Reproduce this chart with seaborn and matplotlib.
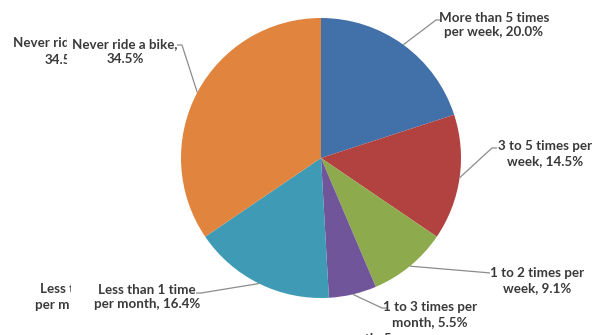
import matplotlib
matplotlib.use("Agg")
import matplotlib.pyplot as plt
import numpy as np
import seaborn as sns
from matplotlib.patches import Rectangle

# Bike-riding frequency shares (percent), clockwise from 12 o'clock
categories = [
    "More than 5 times per week",
    "3 to 5 times per week",
    "1 to 2 times per week",
    "1 to 3 times per month",
    "Less than 1 time per month",
    "Never ride a bike",
]
shares = [20.0, 14.5, 9.1, 5.5, 16.4, 34.5]
label_texts = [
    "More than 5 times\nper week, 20.0%",
    "3 to 5 times per\nweek, 14.5%",
    "1 to 2 times per\nweek, 9.1%",
    "1 to 3 times per\nmonth, 5.5%",
    "Less than 1 time\nper month, 16.4%",
    "Never ride a bike,\n34.5%",
]
palette = ["#4271A9", "#B2423F", "#8DAA4C", "#70559A", "#3E9AB5", "#E0843E"]

sns.set_theme(style="white")
plt.rcParams["font.family"] = ["Lato", "DejaVu Sans"]

W, H = 597, 335
fig = plt.figure(figsize=(W / 100, H / 100), dpi=100)
ax = fig.add_axes([0, 0, 1, 1])

# work in pixel-like units, y measured from the top
def py(y):
    return H - y

cx, cy, r = 321, py(158), 140
wedges, _ = ax.pie(
    shares,
    colors=sns.color_palette(palette),
    startangle=90,
    counterclock=False,
    center=(cx, cy),
    radius=r,
    wedgeprops=dict(linewidth=0),
)
ax.set_xlim(0, W)
ax.set_ylim(0, H)
ax.set_aspect("equal")
ax.axis("off")

# label centres, elbow point and tick end (x, y from top)
label_layout = [
    dict(text=(494, 25), elbow=(436, 20), tick=(441, 20)),
    dict(text=(545, 153.5), elbow=(492, 148), tick=(497, 148)),
    dict(text=(537, 280.5), elbow=(485, 272.5), tick=(490, 273)),
    dict(text=(430, 314.5), elbow=(382, 308), tick=(388, 308)),
    dict(text=(147, 297), elbow=(201, 293), tick=(196, 293)),
    dict(text=(125, 51.5), elbow=(182, 45), tick=(177, 45)),
]

text_color = "#3a3a3a"
line_color = "#8c8c8c"
fs = 9.6

for w, txt, lay in zip(wedges, label_texts, label_layout):
    mid = np.deg2rad((w.theta1 + w.theta2) / 2)
    ex, ey = cx + r * np.cos(mid), cy + r * np.sin(mid)
    (bx, by), (tx, ty) = lay["elbow"], lay["tick"]
    ax.plot([ex, bx, tx], [ey, py(by), py(ty)], color=line_color, lw=0.9,
            solid_capstyle="butt", zorder=3)
    ax.text(lay["text"][0], py(lay["text"][1]), txt, ha="center", va="center",
            fontsize=fs, fontweight="bold", color=text_color, linespacing=1.25,
            zorder=4)

# stray duplicate label fragments, cut off at the left and bottom
ghosts = [
    ("Never rid", (13, 43), 67),
    ("34.5", (45, 60), 67),
    ("Less t", (40, 289), 71),
    ("per m", (35, 305), 70),
    ("month, 5.5%", (338, 338), 392),
]
for txt, (gx, gy), x1 in ghosts:
    t = ax.text(gx, py(gy), txt, ha="left", va="center", fontsize=fs,
                fontweight="bold", color=text_color, zorder=4)
    clip = Rectangle((0, 0), x1, H, transform=ax.transData)
    t.set_clip_path(clip)
    t.set_clip_on(True)

fig.savefig("out.png", dpi=100, facecolor="white")
